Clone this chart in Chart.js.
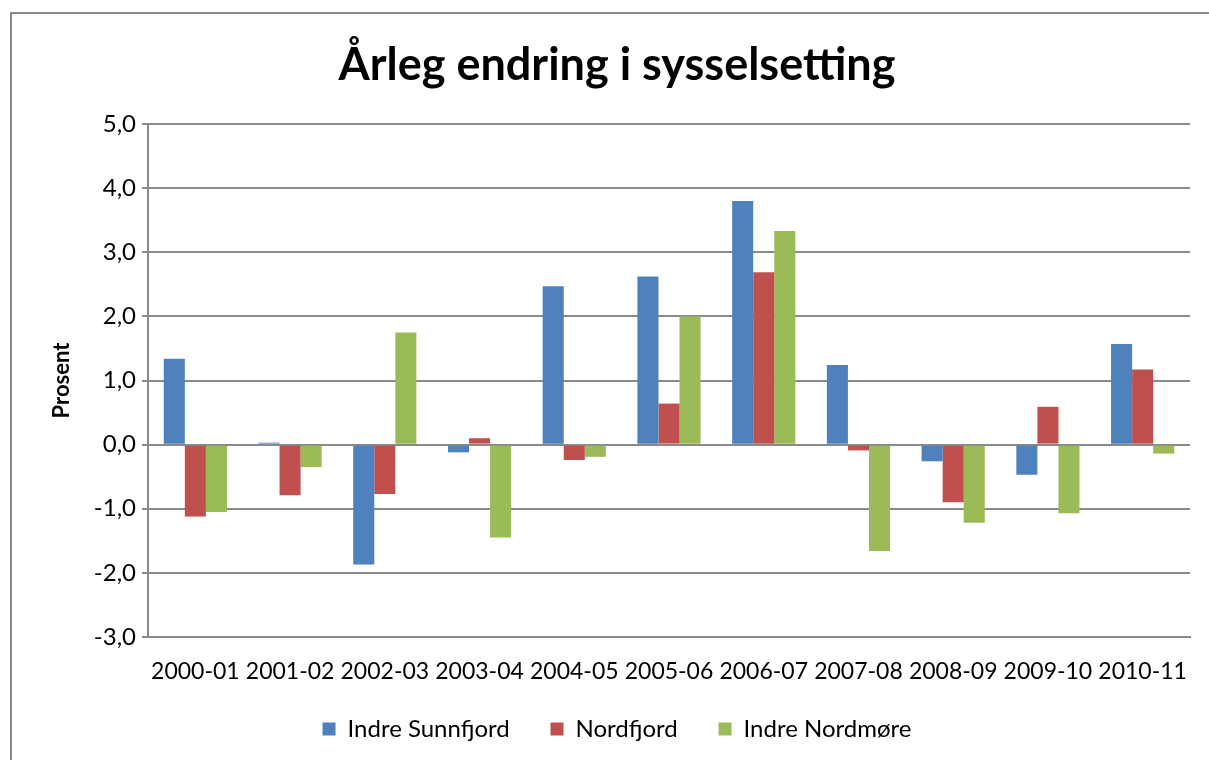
<!DOCTYPE html>
<html>
<head>
<meta charset="utf-8">
<script src="https://cdn.jsdelivr.net/npm/chart.js@4"></script>
<style>
  html, body { margin: 0; padding: 0; background: #fff; }
  .frame { position: absolute; left: 10px; top: 12px; width: 1400px; height: 900px;
           border-top: 2px solid #8a8a8a; border-left: 2px solid #8a8a8a; }
  .wrap { position: absolute; left: 0; top: 0; width: 1209px; height: 760px; }
</style>
</head>
<body>
<div class="frame"></div>
<div class="wrap"><canvas id="chart" width="1209" height="760"></canvas></div>
<script>
// Årleg endring i sysselsetting, prosent
const categories = ['2000-01', '2001-02', '2002-03', '2003-04', '2004-05', '2005-06',
                    '2006-07', '2007-08', '2008-09', '2009-10', '2010-11'];
const indreSunnfjord = [1.34, 0.03, -1.87, -0.12, 2.47, 2.62, 3.80, 1.24, -0.26, -0.47, 1.57];
const nordfjord      = [-1.12, -0.79, -0.77, 0.10, -0.24, 0.64, 2.69, -0.09, -0.90, 0.59, 1.17];
const indreNordmore  = [-1.05, -0.35, 1.75, -1.45, -0.19, 2.00, 3.33, -1.66, -1.22, -1.07, -0.14];
const seriesNames = ['Indre Sunnfjord', 'Nordfjord', 'Indre Nordmøre'];
const seriesColors = ['#4f81bd', '#c0504d', '#9bbb59'];

const FONT = 'Lato, "Open Sans", sans-serif';
const gridGrey = '#8a8a8a';

const ctx = document.getElementById('chart');
new Chart(ctx, {
    type: 'bar',
    data: {
        labels: categories,
        datasets: [indreSunnfjord, nordfjord, indreNordmore].map((d, i) => ({
            label: seriesNames[i],
            data: d,
            backgroundColor: seriesColors[i],
            borderWidth: 0,
            categoryPercentage: 0.667,
            barPercentage: 1.0,
        }))
    },
    options: {
        responsive: false,
        animation: false,
        // wider left padding so title and legend centre where the original does
        layout: { padding: { top: 12, left: 44, right: 19, bottom: 9 } },
        plugins: {
            title: {
                display: true,
                text: 'Årleg endring i sysselsetting',
                color: '#000',
                font: { family: FONT, size: 45, weight: 'bold', lineHeight: 1.2 },
                padding: { top: 26, bottom: 32 }
            },
            legend: {
                position: 'bottom',
                labels: {
                    color: '#000',
                    font: { family: FONT, size: 24 },
                    boxWidth: 13, boxHeight: 13,
                    padding: 10,
                    generateLabels: chart => chart.data.datasets.map((ds, i) => ({
                        text: ds.label + (i < 2 ? '     ' : ''),
                        fillStyle: ds.backgroundColor,
                        strokeStyle: ds.backgroundColor,
                        lineWidth: 0,
                        datasetIndex: i
                    }))
                }
            },
            tooltip: { enabled: false }
        },
        scales: {
            x: {
                grid: { display: false, drawTicks: false },
                border: { display: true, color: gridGrey, width: 2 },
                ticks: { color: '#000', font: { family: FONT, size: 23 }, padding: 21, maxRotation: 0, autoSkip: false },
                afterFit: s => { s.height = 70; }
            },
            y: {
                min: -3, max: 5,
                ticks: {
                    stepSize: 1,
                    color: '#000',
                    font: { family: FONT, size: 24 },
                    padding: 6,
                    callback: v => v.toFixed(1).replace('.', ',')
                },
                grid: { color: gridGrey, lineWidth: 2, tickLength: 6, drawTicks: true },
                border: { display: true, color: gridGrey, width: 2 },
                title: {
                    display: true,
                    text: 'Prosent',
                    color: '#000',
                    font: { family: FONT, size: 22, weight: 'bold' },
                    padding: { top: 5, bottom: 0 }
                },
                afterFit: s => { s.width = 104; }
            }
        }
    }
});
</script>
</body>
</html>
